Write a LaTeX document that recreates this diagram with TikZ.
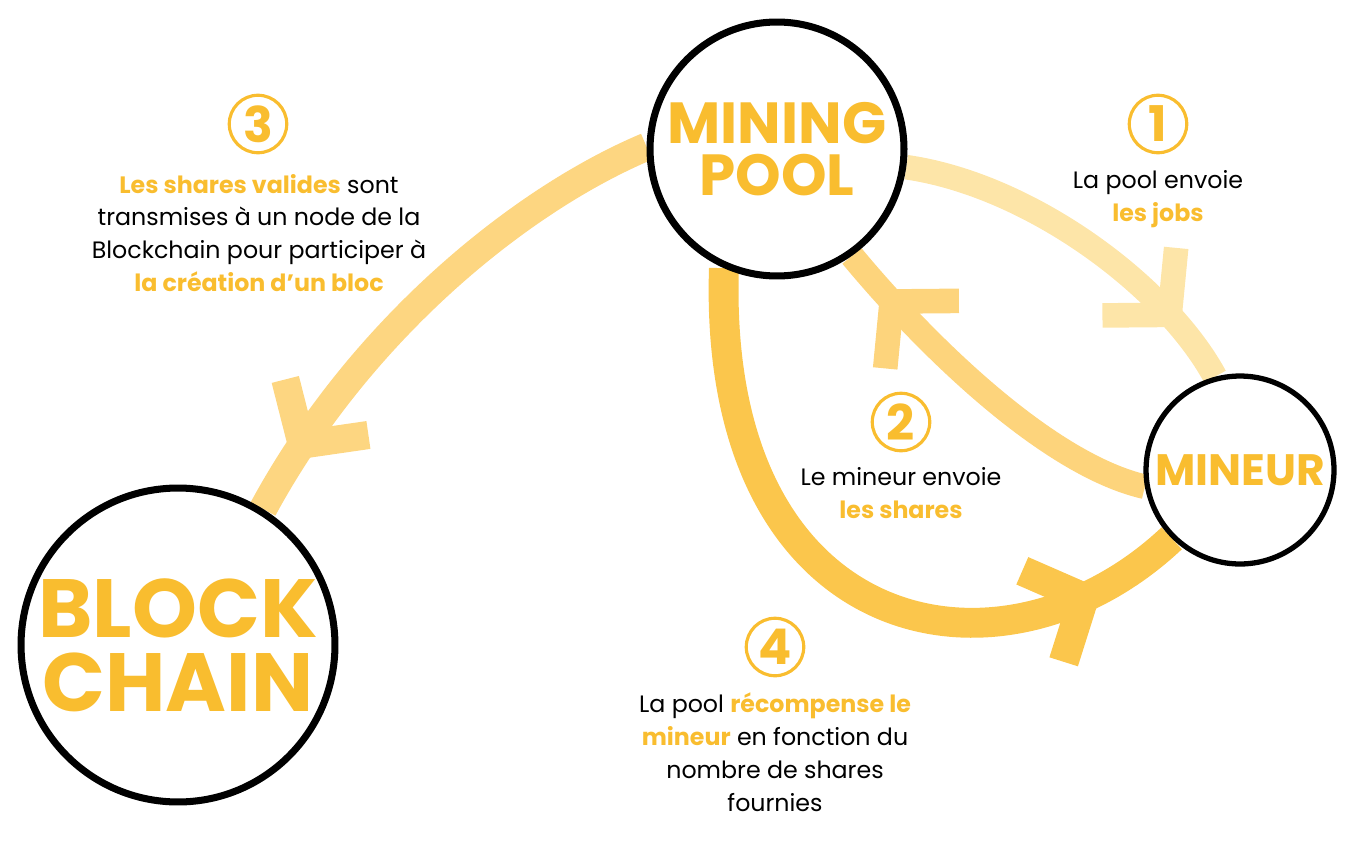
\documentclass[tikz,border=0pt]{standalone}
\usepackage{fontspec}
\setmainfont{Poppins}
\usetikzlibrary{backgrounds,decorations.markings}
\definecolor{gold}{HTML}{F9BD2F}
\definecolor{bandone}{HTML}{FDE5A8}
\definecolor{bandtwo}{HTML}{FDD47C}
\definecolor{bandthree}{HTML}{FDD681}
\definecolor{bandfour}{HTML}{FBC64C}
\tikzset{
  bigc/.style={circle, draw=black, fill=white, inner sep=0pt, align=center, text=gold},
  numc/.style={circle, draw=gold, line width=1.8pt, minimum size=1.15cm, inner sep=0pt,
    text=gold, font=\fontsize{28}{28}\bfseries\selectfont},
  txt/.style={align=center, font=\fontsize{13.5}{18.7}\selectfont},
  band/.style={line width=#1, line cap=butt},
  tip/.style={postaction={decorate, decoration={markings,
    mark=at position #1 with {\draw[line join=round] (-0.9cm,1.0cm) -- (0,0) -- (-0.9cm,-1.0cm);}}}},
}
\newcommand{\hl}[1]{{\color{gold}\bfseries #1}}
\begin{document}
\begin{tikzpicture}[x=0.02cm, y=-0.02cm]
\useasboundingbox (0,0) rectangle (1364,848);

\node[bigc, line width=4pt, minimum size=5.08cm, font=\fontsize{33}{30}\bfseries\selectfont] (pool) at (777,149) {MINING\\POOL};
\node[bigc, line width=3pt, minimum size=3.76cm, font=\fontsize{25}{25}\bfseries\selectfont] (mineur) at (1240,470) {MINEUR};
\node[bigc, line width=4pt, minimum size=6.28cm, font=\fontsize{47}{42}\bfseries\selectfont] (chain) at (178,645) {BLOCK\\CHAIN};

\begin{pgfonlayer}{background}
\draw[band=14pt, color=bandone, tip=0.8] (pool.-8) .. controls (1030,185) and (1165,285) .. (mineur.105);
\draw[band=14pt, color=bandtwo, tip=0.84] (mineur.190) .. controls (1050,465) and (930,350) .. (pool.-55);
\draw[band=16pt, color=bandthree, tip=0.86] (pool.179) .. controls (520,200) and (360,330) .. (chain.58);
\draw[band=17pt, color=bandfour, tip=0.85] (pool.-114) .. controls (712,640) and (1000,700) .. (mineur.-135);
\end{pgfonlayer}

\node[numc] (n1) at (1158,124) {1};
\node[numc] (n2) at (901,422) {2};
\node[numc] (n3) at (258,124) {3};
\node[numc] (n4) at (775,647) {4};

\node[txt] (t1) at (1158,199) {La pool envoie\\\hl{les jobs}};
\node[txt] (t2) at (901,493) {Le mineur envoie\\\hl{les shares}};
\node[txt] (t3) at (259,233) {\hl{Les shares valides} sont\\transmises à un node de la\\Blockchain pour participer à\\\hl{la création d’un bloc}};
\node[txt] (t4) at (775,752) {La pool \hl{récompense le}\\\hl{mineur} en fonction du\\nombre de shares\\fournies};
\end{tikzpicture}
\end{document}
